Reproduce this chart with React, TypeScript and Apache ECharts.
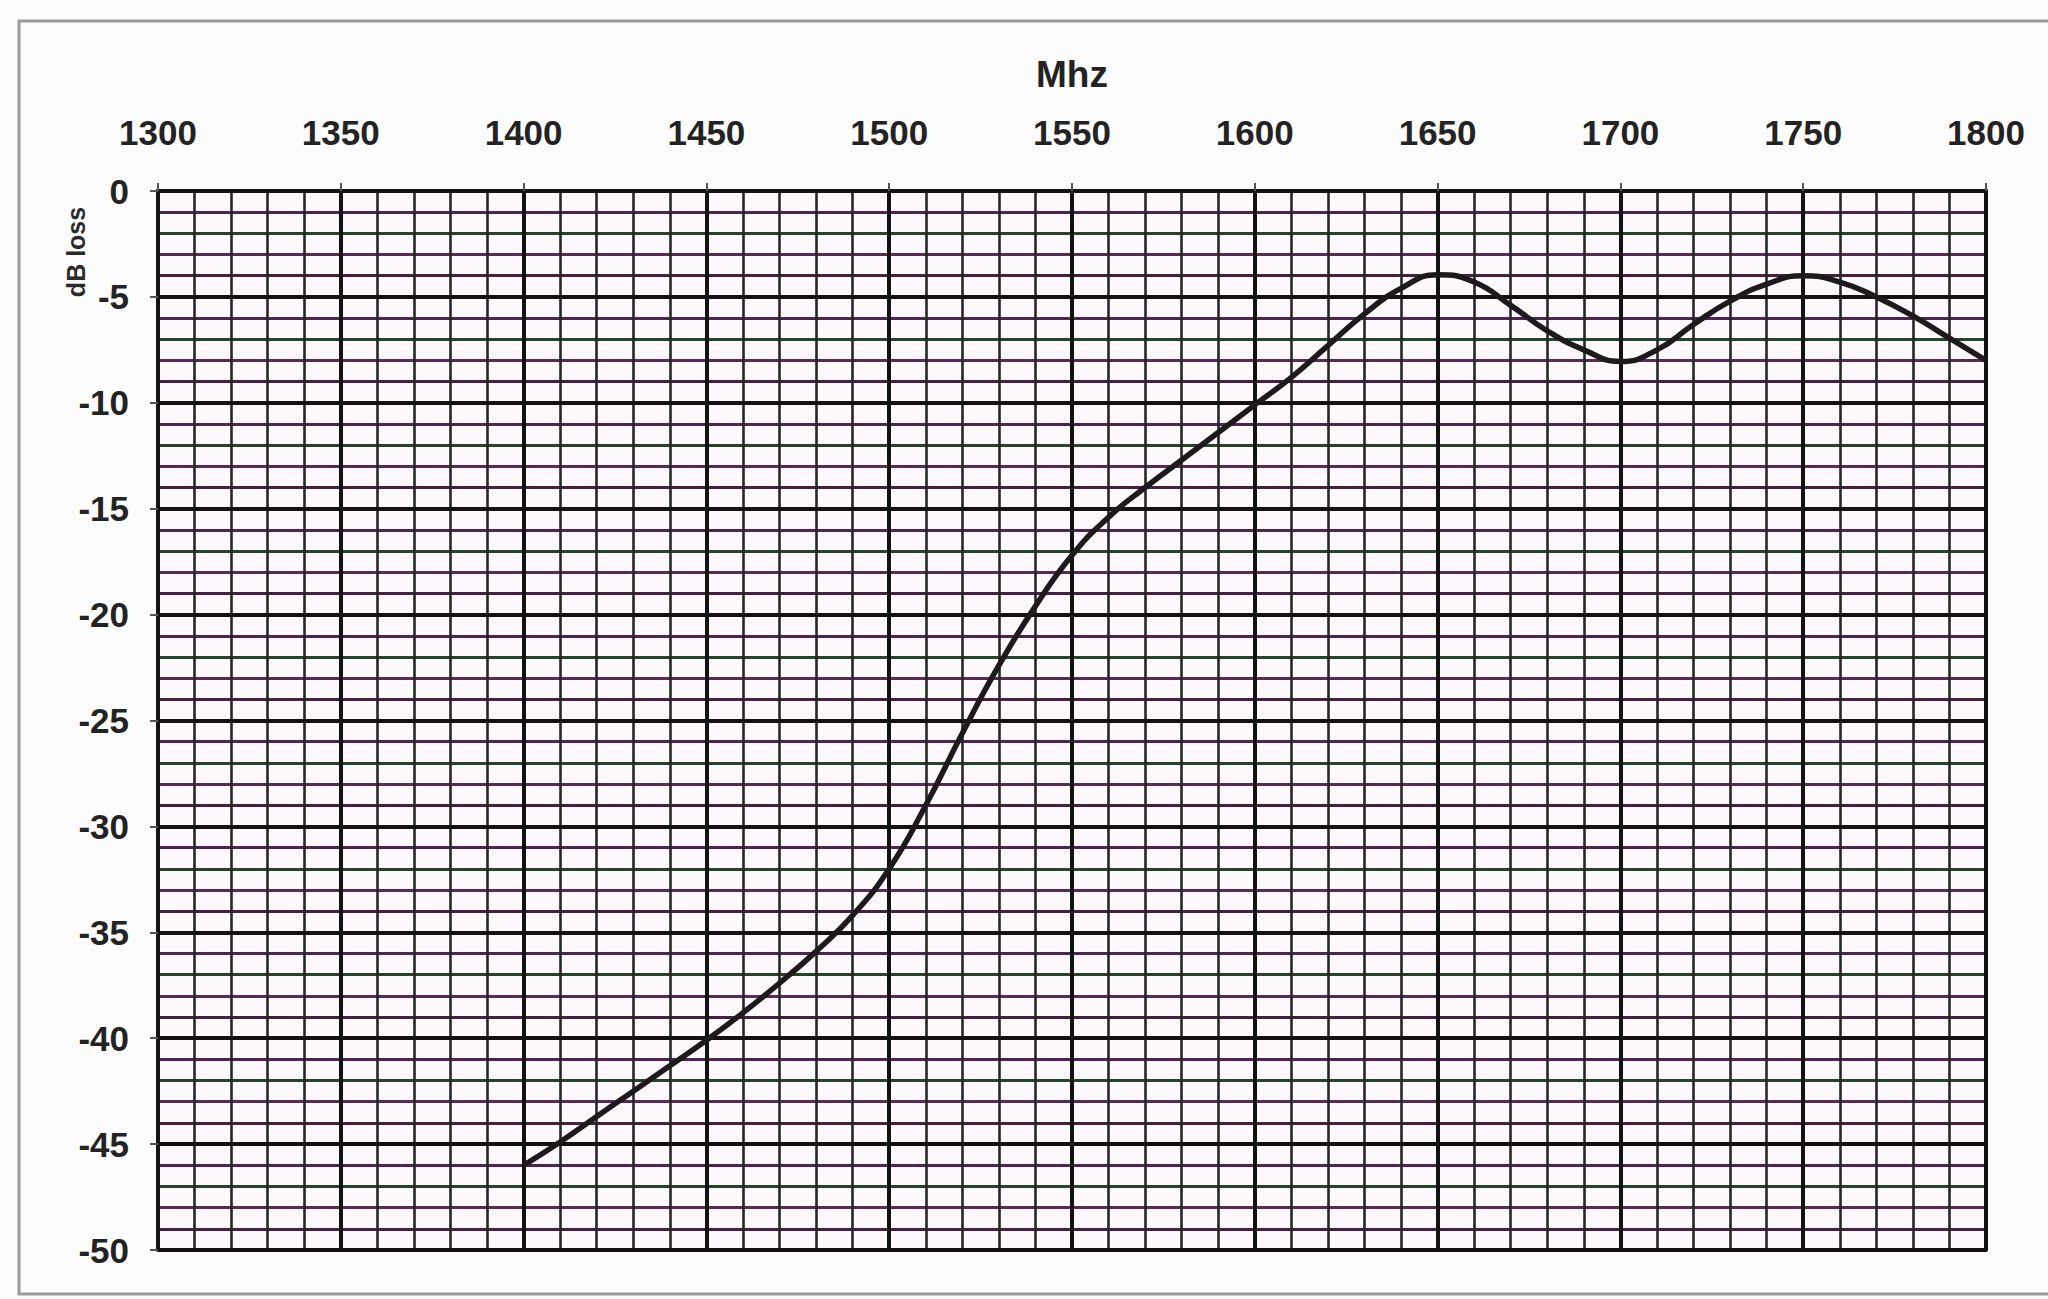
import React, { useEffect, useRef } from "react";
import * as echarts from "echarts";

// Frequency (MHz) and measured loss (dB)
const FREQ = [
  1400, 1410, 1420, 1430, 1440, 1450, 1460, 1470, 1480, 1490, 1500, 1510, 1520,
  1530, 1540, 1550, 1560, 1570, 1580, 1590, 1600, 1610, 1620, 1630, 1640, 1650,
  1660, 1670, 1680, 1690, 1700, 1710, 1720, 1730, 1740, 1750, 1760, 1770, 1780,
  1790, 1800,
];
const LOSS = [
  -46.0, -44.9, -43.7, -42.5, -41.3, -40.1, -38.8, -37.4, -35.9, -34.2, -32.0,
  -29.0, -25.6, -22.4, -19.6, -17.2, -15.4, -14.0, -12.7, -11.4, -10.1, -8.8,
  -7.3, -5.8, -4.6, -3.95, -4.3, -5.4, -6.6, -7.5, -8.05, -7.5, -6.3, -5.2, -4.4,
  -4.0, -4.3, -5.0, -5.9, -6.95, -8.0,
];
const X_MIN = 1300;
const X_MAX = 1800;
const X_MAJOR = 50;
const X_MINOR = 10;
const Y_MIN = -50;
const Y_MAX = 0;
const Y_MAJOR = 5;
const Y_MINOR = 1;
const X_TITLE = "Mhz";
const Y_TITLE = "dB loss";

const FONT = "'Liberation Sans', Arial, sans-serif";

export default function App() {
  const ref = useRef<HTMLDivElement>(null);
  useEffect(() => {
    document.body.style.margin = "0";
    const chart = echarts.init(ref.current!, null, { renderer: "svg" });
    const labelStyle = {
      fontSize: 35,
      fontWeight: "bold" as const,
      fontFamily: FONT,
      color: "#232323",
      formatter: (v: number) => String(v),
    };
    chart.setOption({
      animation: false,
      backgroundColor: "#fdfcfd",
      grid: {
        left: 158,
        right: 62,
        top: 191,
        bottom: 49,
        show: true,
        backgroundColor: "#fcf8fb",
        borderWidth: 0,
      },
      graphic: [
        {
          type: "rect",
          shape: { x: 19, y: 21, width: 2100, height: 1273 },
          style: { fill: "none", stroke: "#9a9a9a", lineWidth: 3 },
          z: -1,
        },
        {
          type: "text",
          x: 1072,
          y: 74,
          style: {
            text: X_TITLE,
            font: `bold 37px ${FONT}`,
            fill: "#232323",
            textAlign: "center",
            textVerticalAlign: "middle",
          },
        },
        {
          type: "text",
          x: 76,
          y: 252,
          rotation: Math.PI / 2,
          style: {
            text: Y_TITLE,
            font: `bold 25px ${FONT}`,
            fill: "#2a2a2a",
            textAlign: "center",
            textVerticalAlign: "middle",
          },
        },
      ],
      xAxis: [
        {
          type: "value",
          min: X_MIN,
          max: X_MAX,
          interval: X_MAJOR,
          position: "top",
          z: 1,
          axisLine: { show: true, lineStyle: { color: "#141414", width: 4 } },
          axisTick: { show: true, length: 8, lineStyle: { color: "#555", width: 2 } },
          axisLabel: { ...labelStyle, margin: 41 },
          splitLine: { show: true, lineStyle: { color: "#121212", width: 4 } },
        },
        {
          type: "value",
          min: X_MIN,
          max: X_MAX,
          interval: X_MINOR,
          position: "bottom",
          z: 0,
          axisLine: { show: true, lineStyle: { color: "#141414", width: 4 } },
          axisTick: { show: false },
          axisLabel: { show: false },
          splitLine: { show: true, lineStyle: { color: "#262626", width: 2.6 } },
        },
      ],
      yAxis: [
        {
          type: "value",
          min: Y_MIN,
          max: Y_MAX,
          interval: Y_MAJOR,
          position: "left",
          z: 1,
          axisLine: { show: true, lineStyle: { color: "#141414", width: 4 } },
          axisTick: { show: true, length: 8, lineStyle: { color: "#555", width: 2 } },
          axisLabel: { ...labelStyle, margin: 29 },
          splitLine: { show: true, lineStyle: { color: "#141014", width: 3.8 } },
        },
        {
          type: "value",
          min: Y_MIN,
          max: Y_MAX,
          interval: Y_MINOR,
          position: "right",
          z: 0,
          axisLine: { show: true, lineStyle: { color: "#141414", width: 4 } },
          axisTick: { show: false },
          axisLabel: { show: false },
          splitLine: {
            show: true,
            lineStyle: {
              color: ["#161616", "#45203f", "#5a2a55", "#24442b", "#4f2450"],
              width: 3,
            },
          },
        },
      ],
      series: [
        {
          type: "line",
          xAxisIndex: 0,
          yAxisIndex: 0,
          data: FREQ.map((f, i) => [f, LOSS[i]]),
          showSymbol: false,
          smooth: 0.5,
          z: 5,
          lineStyle: { color: "#1d191d", width: 5.5 },
        },
      ],
    });
    return () => chart.dispose();
  }, []);
  return <div ref={ref} style={{ width: 2048, height: 1299 }} />;
}
